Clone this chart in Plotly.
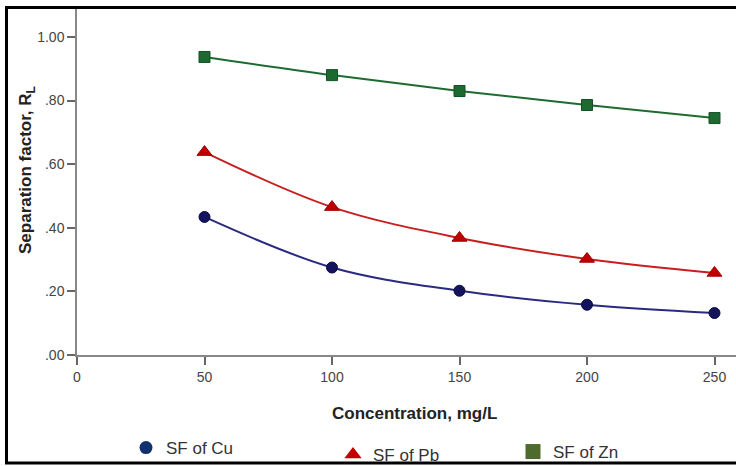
import plotly.graph_objects as go

conc = [50, 100, 150, 200, 250]
sf_cu = [0.434, 0.275, 0.202, 0.158, 0.132]
sf_pb = [0.638, 0.465, 0.368, 0.302, 0.258]
sf_zn = [0.937, 0.880, 0.830, 0.786, 0.745]

series_names = ["SF of Cu", "SF of Pb", "SF of Zn"]

y_tickvals = [0, 0.2, 0.4, 0.6, 0.8, 1.0]
y_ticktext = [".00", ".20", ".40", ".60", ".80", "1.00"]
x_tickvals = [0, 50, 100, 150, 200, 250]

W, H = 736, 466
L, R, T, B = 77, 0, 8, 111
pw, ph = W - L - R, H - T - B

def px(x):
    return (x - L) / pw

def py(y):
    return (H - B - y) / ph

fig = go.Figure()
# data traces
fig.add_trace(go.Scatter(x=conc, y=sf_cu, mode="lines+markers", name=series_names[0],
                         showlegend=False,
                         line=dict(color="#2a2a80", width=2, shape="spline"),
                         marker=dict(symbol="circle", size=11, color="#14145e",
                                     line=dict(color="#0c0c40", width=1))))
fig.add_trace(go.Scatter(x=conc, y=sf_pb, mode="lines+markers", name=series_names[1],
                         showlegend=False,
                         line=dict(color="#c81e1e", width=2, shape="spline"),
                         marker=dict(symbol="triangle-up", size=13, color="#c00000",
                                     line=dict(color="#a00000", width=1))))
fig.add_trace(go.Scatter(x=conc, y=sf_zn, mode="lines+markers", name=series_names[2],
                         showlegend=False,
                         line=dict(color="#1e6b32", width=2, shape="spline"),
                         marker=dict(symbol="square", size=11, color="#1c6a30",
                                     line=dict(color="#145224", width=1))))
# legend-only marker entries
fig.add_trace(go.Scatter(x=[None], y=[None], mode="markers", name=series_names[0],
                         legend="legend",
                         marker=dict(symbol="circle", size=13, color="#10306e")))
fig.add_trace(go.Scatter(x=[None], y=[None], mode="markers", name=series_names[1],
                         legend="legend2",
                         marker=dict(symbol="triangle-up", size=15, color="#c40000")))
fig.add_trace(go.Scatter(x=[None], y=[None], mode="markers", name=series_names[2],
                         legend="legend3",
                         marker=dict(symbol="square", size=15, color="#4f6b2b")))

leg_common = dict(orientation="h", xanchor="left", yanchor="middle",
                  font=dict(size=17, color="#333333"), bgcolor="rgba(0,0,0,0)")

fig.update_layout(
    width=W, height=H,
    margin=dict(l=L, r=R, t=T, b=B, autoexpand=False),
    paper_bgcolor="white", plot_bgcolor="white",
    font=dict(family="Liberation Sans, Arial", size=14, color="#333333"),
    showlegend=True,
    legend=dict(x=px(126), y=py(448), **leg_common),
    legend2=dict(x=px(333), y=py(455), **leg_common),
    legend3=dict(x=px(513), y=py(452), **leg_common),
    xaxis=dict(range=[0, (W - L) / 2.55], tickvals=x_tickvals, showgrid=False, zeroline=False,
               showline=True, linecolor="#888888", linewidth=1.5,
               ticks="outside", ticklen=8, tickcolor="#666666", tickwidth=1.5,
               tickfont=dict(size=14, color="#444444")),
    yaxis=dict(range=[0, 1.091], tickvals=y_tickvals, ticktext=y_ticktext, showgrid=False,
               zeroline=False, showline=True, linecolor="#888888", linewidth=1.5,
               ticks="outside", ticklen=8, tickcolor="#666666", tickwidth=1.5,
               tickfont=dict(size=14, color="#444444")),
    annotations=[
        dict(text="<b>Concentration, mg/L</b>", xref="paper", yref="paper",
             x=px(414), y=py(413), xanchor="center", yanchor="middle",
             showarrow=False, font=dict(size=17, color="#222222")),
        dict(text="<b>Separation factor, R<sub>L</sub></b>", xref="paper", yref="paper",
             x=px(27), y=py(170), xanchor="center", yanchor="middle",
             showarrow=False, textangle=-90,
             font=dict(size=17, color="#222222")),
    ],
    shapes=[
        dict(type="rect", xref="paper", yref="paper", x0=px(6.5), x1=px(745),
             y0=py(463), y1=py(7.5), line=dict(color="black", width=3),
             fillcolor="rgba(0,0,0,0)", layer="above"),
    ],
)

fig.write_html("out.html")
